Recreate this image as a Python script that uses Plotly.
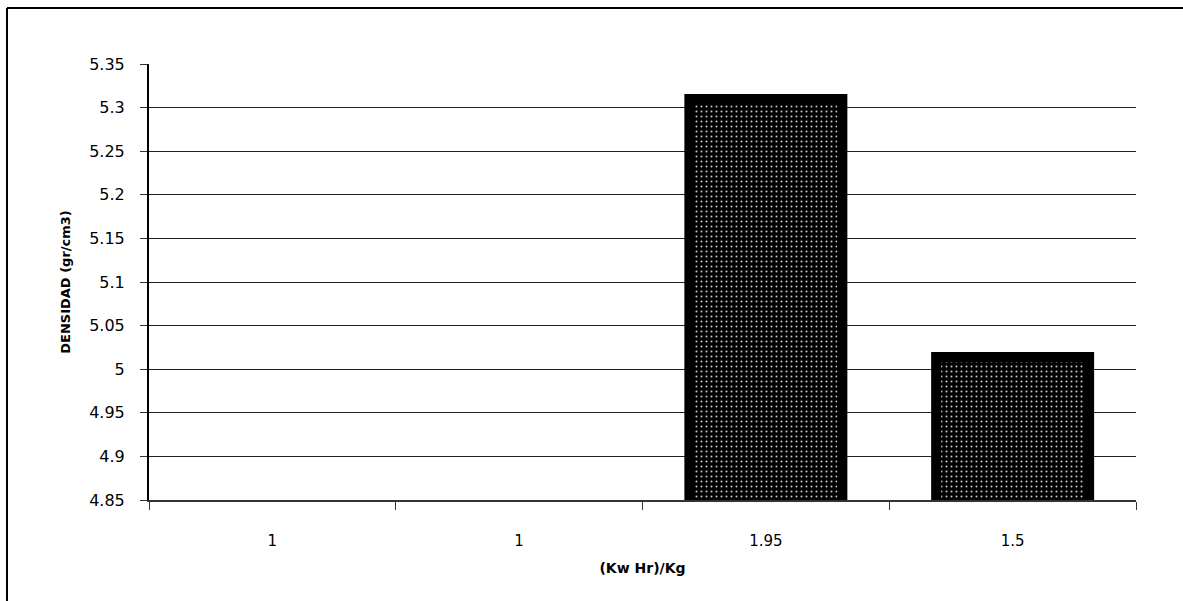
import plotly.graph_objects as go

# Data
categories = ["1", "1", "1.95", "1.5"]          # (Kw Hr)/Kg
densidad = [None, None, 5.31, 5.014]            # gr/cm3 (first two below axis range)
y_ticks = [4.85, 4.9, 4.95, 5.0, 5.05, 5.1, 5.15, 5.2, 5.25, 5.3, 5.35]
y_tick_text = ["4.85", "4.9", "4.95", "5", "5.05", "5.1", "5.15", "5.2", "5.25", "5.3", "5.35"]

x_pos = list(range(len(categories)))
boundaries = [i - 0.5 for i in range(len(categories) + 1)]

fig = go.Figure()
fig.add_trace(go.Bar(
    x=x_pos,
    y=densidad,
    width=0.62,
    marker=dict(
        color="#000000",
        line=dict(color="#000000", width=10),
        pattern=dict(shape=".", fgcolor="#c8c8c8", bgcolor="#000000",
                     size=5, solidity=0.13, fillmode="replace"),
    ),
    showlegend=False,
    hoverinfo="x+y",
))

fig.update_layout(
    width=1183, height=601,
    margin=dict(l=149, r=47, t=64, b=101),
    paper_bgcolor="white",
    plot_bgcolor="white",
    font=dict(family="DejaVu Sans, Liberation Sans, Arial", color="#000000"),
    xaxis=dict(
        type="linear",
        range=[-0.5, len(categories) - 0.5],
        tickvals=x_pos,
        ticktext=categories,
        ticks="",
        ticklabelstandoff=26,
        tickfont=dict(size=15, family="DejaVu Sans"),
        showgrid=False,
        zeroline=False,
        showline=True,
        linecolor="#333333",
        linewidth=1.5,
        minor=dict(tickvals=boundaries, ticks="outside", ticklen=8,
                   tickcolor="#333333", tickwidth=1.2, showgrid=False),
        title=dict(text="(Kw Hr)/Kg", standoff=14,
                   font=dict(size=14, family="DejaVu Sans", weight="bold")),
    ),
    yaxis=dict(
        range=[4.85, 5.35],
        tickvals=y_ticks,
        ticktext=y_tick_text,
        ticks="outside",
        ticklen=7,
        tickcolor="#333333",
        ticklabelstandoff=12,
        tickfont=dict(size=16, family="DejaVu Sans"),
        showgrid=True,
        gridcolor="#222222",
        gridwidth=1.3,
        zeroline=False,
        showline=True,
        linecolor="#000000",
        linewidth=2,
        title=dict(text="DENSIDAD (gr/cm3)", standoff=16,
                   font=dict(size=13, family="DejaVu Sans", weight="bold")),
    ),
    shapes=[
        dict(type="line", xref="paper", yref="paper",
             x0=(7 - 149) / 987, x1=(7 - 149) / 987,
             y0=(500 - 620) / 436, y1=(500 - 8) / 436,
             line=dict(color="#000000", width=2), layer="below"),
        dict(type="line", xref="paper", yref="paper",
             x0=(7 - 149) / 987, x1=(1195 - 149) / 987,
             y0=(500 - 8) / 436, y1=(500 - 8) / 436,
             line=dict(color="#000000", width=2), layer="below"),
    ],
)

fig.write_html("out.html")
